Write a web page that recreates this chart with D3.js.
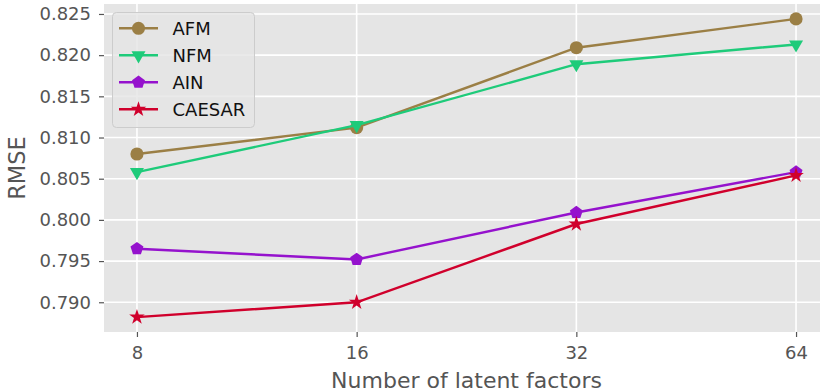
<!DOCTYPE html>
<html>
<head>
<meta charset="utf-8">
<script src="https://cdn.jsdelivr.net/npm/d3@7"></script>
<style>
    body { margin: 0; background: #fff; }
    text { font-family: "DejaVu Sans", sans-serif; }
</style>
</head>
<body>
<div id="root"></div>
<script>
"use strict";

/* ************************************* Data ******************************** */

const factors = [8, 16, 32, 64];
const seriesNames = ["AFM", "NFM", "AIN", "CAESAR"];
const afm = [0.8080, 0.8112, 0.8209, 0.8244];
const nfm = [0.8058, 0.8115, 0.8189, 0.8213];
const ain = [0.7965, 0.7952, 0.8009, 0.8058];
const caesar = [0.7882, 0.7900, 0.7995, 0.8054];
const yTicks = [0.790, 0.795, 0.800, 0.805, 0.810, 0.815, 0.820, 0.825];

/* ************************************* Set up ******************************** */

const width = 820;
const height = 392;

const plot = { left: 104, right: 829, top: 4, bottom: 332 };

const colors = ["#9b7f45", "#1ecb7a", "#9512cd", "#d0002c"];

// custom pentagon symbol (d3 has none)
const symbolPentagon = {
    draw(context, size) {
        const r = Math.sqrt(size / 2.378);
        for (let i = 0; i < 5; i++) {
            const a = -Math.PI / 2 + i * 2 * Math.PI / 5;
            const x = r * Math.cos(a), y = r * Math.sin(a);
            if (i === 0) context.moveTo(x, y); else context.lineTo(x, y);
        }
        context.closePath();
    }
};

const markers = [
    { type: d3.symbolCircle, size: 135, rotate: 0 },
    { type: d3.symbolTriangle, size: 85, rotate: 180 },
    { type: symbolPentagon, size: 110, rotate: 0 },
    { type: d3.symbolStar, size: 75, rotate: 0 }
];

const series = [afm, nfm, ain, caesar].map((vals, i) => ({
    name: seriesNames[i],
    color: colors[i],
    marker: markers[i],
    values: vals.map((v, j) => ({ x: factors[j], y: v }))
}));

let svg = d3.select('#root')
    .append('svg')
    .attr('width', width)
    .attr('height', height);

/* ************************************* Scales ******************************** */

// matplotlib style 5% margins on a log2 axis
let xScale = d3.scaleLog().base(2)
    .domain([8 / Math.pow(2, 0.15), 64 * Math.pow(2, 0.15)])
    .range([plot.left, plot.right]);

let yMin = 0.7882, yMax = 0.8244, pad = (yMax - yMin) * 0.05;
let yScale = d3.scaleLinear()
    .domain([yMin - pad, yMax + pad])
    .range([plot.bottom, plot.top]);

/* ************************************* Background + grid ******************************** */

svg.append('rect')
    .attr('x', plot.left)
    .attr('y', plot.top)
    .attr('width', plot.right - plot.left)
    .attr('height', plot.bottom - plot.top)
    .attr('fill', '#e5e5e5');

let xAxis = d3.axisBottom(xScale)
    .tickValues(factors)
    .tickFormat(d3.format('d'))
    .tickSize(5)
    .tickPadding(9);

let yAxis = d3.axisLeft(yScale)
    .tickValues(yTicks)
    .tickFormat(d3.format('.3f'))
    .tickSize(5)
    .tickPadding(8);

svg.append('g').selectAll('line').data(factors).join('line')
    .attr('x1', d => xScale(d)).attr('x2', d => xScale(d))
    .attr('y1', plot.top).attr('y2', plot.bottom)
    .attr('stroke', '#fff').attr('stroke-width', 1.6);

svg.append('g').selectAll('line').data(yTicks).join('line')
    .attr('x1', plot.left).attr('x2', plot.right)
    .attr('y1', d => yScale(d)).attr('y2', d => yScale(d))
    .attr('stroke', '#fff').attr('stroke-width', 1.6);

/* ************************************* Axes ******************************** */

let xAxisG = svg.append('g')
    .attr('transform', `translate(0,${plot.bottom})`)
    .call(xAxis);

let yAxisG = svg.append('g')
    .attr('transform', `translate(${plot.left},0)`)
    .call(yAxis);

[xAxisG, yAxisG].forEach(g => {
    g.select('.domain').remove();
    g.selectAll('.tick line').attr('stroke', '#555').attr('stroke-width', 1.2);
    g.selectAll('.tick text')
        .attr('fill', '#555')
        .style('font-size', '18px')
        .style('font-family', '"DejaVu Sans", sans-serif');
});

svg.append('text')
    .attr('x', (plot.left + plot.right) / 2)
    .attr('y', 388)
    .attr('text-anchor', 'middle')
    .attr('fill', '#555')
    .style('font-size', '22px')
    .text('Number of latent factors');

svg.append('text')
    .attr('transform', `translate(25,${(plot.top + plot.bottom) / 2}) rotate(-90)`)
    .attr('text-anchor', 'middle')
    .attr('fill', '#555')
    .style('font-size', '22.5px')
    .text('RMSE');

/* ************************************* Lines + markers ******************************** */

let line = d3.line()
    .x(d => xScale(d.x))
    .y(d => yScale(d.y));

let seriesG = svg.append('g').selectAll('g').data(series).join('g');

seriesG.append('path')
    .attr('d', d => line(d.values))
    .attr('fill', 'none')
    .attr('stroke', d => d.color)
    .attr('stroke-width', 2.4);

seriesG.each(function (s) {
    d3.select(this).selectAll('path.mk').data(s.values).join('path')
        .attr('class', 'mk')
        .attr('d', d3.symbol().type(s.marker.type).size(s.marker.size))
        .attr('transform', d => `translate(${xScale(d.x)},${yScale(d.y)}) rotate(${s.marker.rotate})`)
        .attr('fill', s.color);
});

/* ************************************* Legend ******************************** */

let legend = svg.append('g');

legend.append('rect')
    .attr('x', 112.5).attr('y', 12.5)
    .attr('width', 142).attr('height', 115)
    .attr('rx', 4)
    .attr('fill', '#e5e5e5').attr('fill-opacity', 0.8)
    .attr('stroke', '#cccccc');

let items = legend.selectAll('g.item').data(series).join('g')
    .attr('class', 'item')
    .attr('transform', (d, i) => `translate(0,${28.3 + i * 27})`);

items.append('line')
    .attr('x1', 119).attr('x2', 158)
    .attr('stroke', d => d.color).attr('stroke-width', 2.4);

items.append('path')
    .attr('d', d => d3.symbol().type(d.marker.type).size(d.marker.size)())
    .attr('transform', d => `translate(138.5,0) rotate(${d.marker.rotate})`)
    .attr('fill', d => d.color);

items.append('text')
    .attr('x', 172.5)
    .attr('dy', '0.36em')
    .attr('fill', '#111')
    .style('font-size', '18px')
    .text(d => d.name);
</script>
</body>
</html>
